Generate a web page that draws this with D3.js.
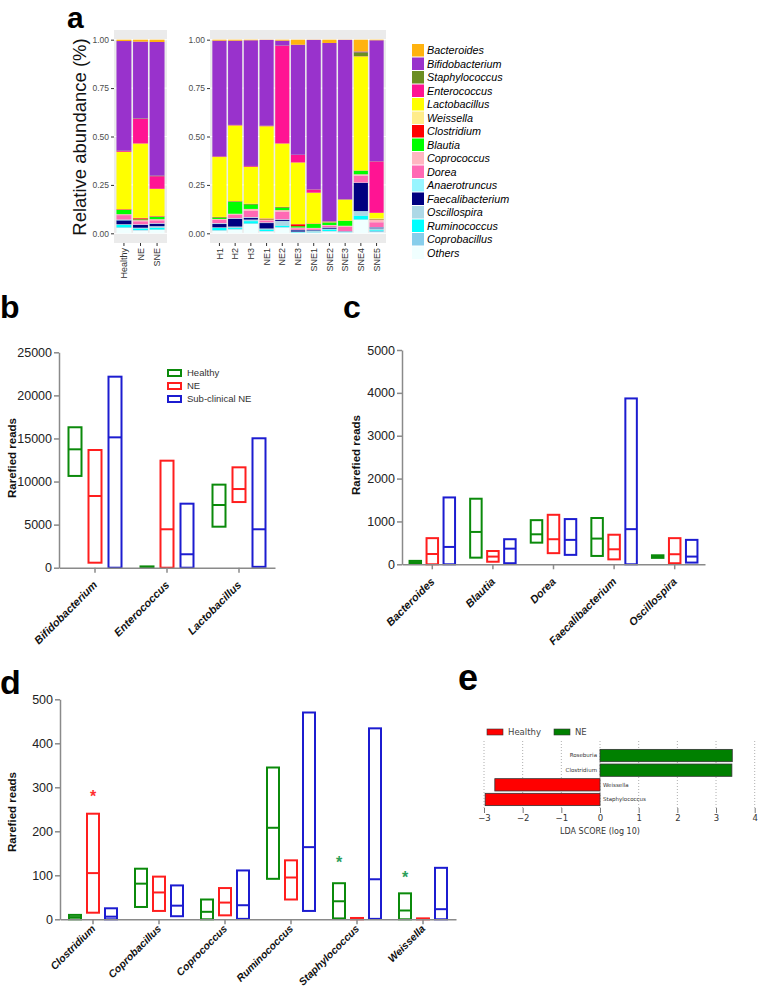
<!DOCTYPE html>
<html><head><meta charset="utf-8">
<script src="https://cdn.jsdelivr.net/npm/d3@7"></script>
<style>body{margin:0;background:#fff;} svg{display:block;}</style>
</head><body>
<script>
// ---------------- DATA ----------------
// Panel a: stacked relative abundance
const samplesPooled = ["Healthy","NE","SNE"];
const samplesIndiv = ["H1","H2","H3","NE1","NE2","NE3","SNE1","SNE2","SNE3","SNE4","SNE5"];
const sampleNames = samplesPooled.concat(samplesIndiv);
const genera = ["Bacteroides","Bifidobacterium","Staphylococcus","Enterococcus","Lactobacillus","Weissella","Clostridium","Blautia","Coprococcus","Dorea","Anaerotruncus","Faecalibacterium","Oscillospira","Ruminococcus","Coprobacillus","Others"];
const generaColors = ["#FFB30F","#9932CC","#6B8E23","#FF1493","#FFFF00","#FFEC8B","#FF0000","#00FF00","#FFB6C1","#FF69B4","#98F5FF","#000080","#ADD8E6","#00FFFF","#87CEEB","#F0FFFF"];
// values per genus, in order of sampleNames
const Bacteroides      = [0.007,0.010,0.012,0.005,0.005,0.003,0.001,0.005,0.026,0.001,0.017,0.001,0.061,0.003];
const Bifidobacterium  = [0.566,0.396,0.690,0.597,0.435,0.649,0.443,0.025,0.568,0.772,0.921,0.823,0.004,0.625];
const Staphylococcus   = [0.002,0.002,0.003,0.001,0.001,0.001,0.001,0.001,0.001,0.001,0.001,0.001,0.020,0.001];
const Enterococcus     = [0.004,0.128,0.065,0.003,0.002,0.004,0.002,0.505,0.039,0.016,0.001,0.001,0.001,0.265];
const Lactobacillus    = [0.296,0.384,0.140,0.309,0.390,0.190,0.475,0.327,0.318,0.159,0.002,0.108,0.589,0.029];
const Weissella        = [0.001,0.002,0.002,0.001,0.001,0.001,0.002,0.001,0.001,0.001,0.001,0.001,0.001,0.004];
const Clostridium      = [0.003,0.006,0.003,0.002,0.002,0.002,0.004,0.002,0.010,0.002,0.001,0.001,0.001,0.002];
const Blautia          = [0.022,0.004,0.012,0.008,0.063,0.024,0.002,0.014,0.007,0.020,0.013,0.025,0.018,0.002];
const Coprococcus      = [0.005,0.006,0.006,0.005,0.005,0.010,0.004,0.008,0.004,0.003,0.004,0.006,0.008,0.012];
const Dorea            = [0.023,0.016,0.015,0.017,0.018,0.033,0.010,0.040,0.008,0.007,0.008,0.022,0.035,0.025];
const Anaerotruncus    = [0.004,0.003,0.003,0.004,0.003,0.004,0.003,0.003,0.002,0.002,0.002,0.001,0.002,0.002];
const Faecalibacterium = [0.020,0.014,0.012,0.017,0.040,0.008,0.028,0.005,0.007,0.003,0.005,0.001,0.145,0.004];
const Oscillospira     = [0.004,0.004,0.008,0.003,0.008,0.008,0.005,0.024,0.002,0.005,0.004,0.001,0.024,0.010];
const Ruminococcus     = [0.012,0.008,0.009,0.012,0.005,0.012,0.008,0.008,0.002,0.002,0.008,0.002,0.019,0.004];
const Coprobacillus    = [0.003,0.002,0.002,0.002,0.002,0.002,0.002,0.002,0.001,0.002,0.002,0.001,0.002,0.006];
const Others           = [0.028,0.015,0.018,0.014,0.020,0.049,0.010,0.030,0.004,0.004,0.010,0.005,0.070,0.006];
const generaValues = [Bacteroides,Bifidobacterium,Staphylococcus,Enterococcus,Lactobacillus,Weissella,Clostridium,Blautia,Coprococcus,Dorea,Anaerotruncus,Faecalibacterium,Oscillospira,Ruminococcus,Coprobacillus,Others];
const yTicksA = [0,0.25,0.5,0.75,1];

// Panels b-d: floating bars [min, median, max]
const groupNames = ["Healthy","NE","Sub-clinical NE"];
const groupColors = ["#0B8A0B","#FF1E1E","#1C1CD0"];

const bCats = ["Bifidobacterium","Enterococcus","Lactobacillus"];
const bHealthy = [[10650,13740,16300],[0,80,150],[4760,7280,9640]];
const bNE      = [[580,8320,13660],[0,4460,12420],[7620,9130,11650]];
const bSNE     = [[0,15130,22170],[0,1560,7430],[100,4460,15020]];
const bTicks = [0,5000,10000,15000,20000,25000];

const cCats = ["Bacteroides","Blautia","Dorea","Faecalibacterium","Oscillospira"];
const cHealthy = [[20,50,80],[155,755,1530],[505,700,1030],[195,600,1080],[150,180,210]];
const cNE      = [[0,240,610],[60,180,310],[260,585,1155],[115,350,690],[25,235,610]];
const cSNE     = [[0,405,1560],[25,365,585],[220,570,1055],[0,820,3870],[40,180,570]];
const cTicks = [0,1000,2000,3000,4000,5000];

const dCats = ["Clostridium","Coprobacillus","Coprococcus","Ruminococcus","Staphylococcus","Weissella"];
const dHealthy = [[0,5,10],[28,81,115],[0,17,45],[92,208,345],[2,41,82],[0,20,59]];
const dNE      = [[15,105,240],[19,61,97],[9,38,71],[45,95,134],[0,1,3],[0,1,2]];
const dSNE     = [[0,6,25],[7,31,77],[1,32,111],[19,164,470],[1,91,434],[0,23,117]];
const dTicks = [0,100,200,300,400,500];
// significance stars: [category, group index, value]
const dStars = [["Clostridium",1,287],["Staphylococcus",0,137],["Weissella",0,103]];

// Panel e: LDA
const eFeatures = ["Roseburia","Clostridium","Weissella","Staphylococcus"];
const eScores = [3.42,3.41,-2.72,-2.97];
const eClass = ["NE","NE","Healthy","Healthy"];
const eClassNames = ["Healthy","NE"];
const eClassColors = ["#FF0000","#008000"];
const eTicks = [-3,-2,-1,0,1,2,3,4];

// ---------------- DRAW ----------------
const FONT = "'Liberation Sans', Arial, Helvetica, sans-serif";
const svg = d3.select("body").append("svg").attr("width",758).attr("height",992)
  .style("font-family",FONT);

function panelLetter(t,x,y,size){
  svg.append("text").attr("x",x).attr("y",y).text(t).attr("font-weight","bold")
    .attr("font-size",size).attr("fill","#000");
}

// ----- Panel a -----
panelLetter("a",67,28,30);
const yA = d3.scaleLinear().domain([-0.05,1.05]).range([243,30]);
const colorOf = {}; genera.forEach((g,i)=>colorOf[g]=generaColors[i]);
const rows = sampleNames.map((s,i)=>{const o={sample:s}; genera.forEach((g,k)=>o[g]=generaValues[k][i]); return o;});
const stacker = d3.stack().keys(genera.slice().reverse());

function drawStack(samples,x0,x1){
  const g = svg.append("g");
  g.append("rect").attr("x",x0).attr("y",30).attr("width",x1-x0).attr("height",213).attr("fill","#EBEBEB");
  yTicksA.forEach(t=>g.append("line").attr("x1",x0).attr("x2",x1).attr("y1",yA(t)).attr("y2",yA(t)).attr("stroke","#fff").attr("stroke-width",1));
  const xb = d3.scaleBand().domain(samples).range([x0,x1]).paddingInner(0.1).paddingOuter(0.15);
  const series = stacker(rows.filter(r=>samples.includes(r.sample)));
  g.selectAll("g.s").data(series).join("g").attr("fill",d=>colorOf[d.key])
    .selectAll("rect").data(d=>d).join("rect")
    .attr("x",d=>xb(d.data.sample)).attr("width",xb.bandwidth())
    .attr("y",d=>yA(d[1])).attr("height",d=>Math.max(0,yA(d[0])-yA(d[1])));
  const ay = g.append("g").attr("transform",`translate(${x0},0)`)
    .call(d3.axisLeft(yA).tickValues(yTicksA).tickFormat(d3.format(".2f")).tickSize(3).tickPadding(2).tickSizeOuter(0));
  ay.select(".domain").remove();
  ay.attr("font-family",FONT);
  ay.selectAll("line").attr("stroke","#333");
  ay.selectAll("text").attr("font-size",8.5).attr("fill","#4D4D4D");
  const ax = g.append("g").attr("transform","translate(0,243)")
    .call(d3.axisBottom(xb).tickSize(3).tickSizeOuter(0));
  ax.select(".domain").remove();
  ax.attr("font-family",FONT);
  ax.selectAll("line").attr("stroke","#333");
  ax.selectAll("text").attr("transform","rotate(-90)").attr("text-anchor","end")
    .attr("x",-5).attr("y",0).attr("dy","0.35em").attr("font-size",9).attr("fill","#333");
}
drawStack(samplesPooled,114,167);
drawStack(samplesIndiv,210,386);
svg.append("text").attr("transform","translate(86,137) rotate(-90)").attr("text-anchor","middle")
  .attr("font-size",18.5).attr("fill","#111").text("Relative abundance (%)");
// legend
const lg = svg.append("g");
genera.forEach((gn,i)=>{
  lg.append("rect").attr("x",412).attr("y",44+13.5*i).attr("width",12).attr("height",12.5).attr("fill",generaColors[i]);
  lg.append("text").attr("x",427).attr("y",50.5+13.5*i).attr("dy","0.35em").attr("font-size",10.8)
    .attr("font-style","italic").attr("fill","#000").text(gn);
});

// ----- Box panels -----
function boxPanel(cfg){
  const y = d3.scaleLinear().domain([0,cfg.ymax]).range([cfg.yBottom,cfg.yTop]);
  const x = d3.scaleBand().domain(cfg.cats).range([cfg.x0,cfg.x1]);
  const step = cfg.inner/3, pin = 1-cfg.boxW/step;
  const xi = d3.scaleBand().domain(groupNames).range([-cfg.inner/2,cfg.inner/2]).paddingInner(pin).paddingOuter(pin/2);
  const g = svg.append("g");
  cfg.data.forEach((arr,gi)=>{
    arr.forEach((v,ci)=>{
      const left = x(cfg.cats[ci]) + x.bandwidth()/2 + xi(groupNames[gi]);
      const [mn,md,mx] = v;
      g.append("rect").attr("x",left).attr("width",xi.bandwidth())
        .attr("y",y(mx)).attr("height",Math.max(0.5,y(mn)-y(mx)))
        .attr("fill","none").attr("stroke",groupColors[gi]).attr("stroke-width",2);
      g.append("line").attr("x1",left).attr("x2",left+xi.bandwidth()).attr("y1",y(md)).attr("y2",y(md))
        .attr("stroke",groupColors[gi]).attr("stroke-width",2);
    });
  });
  (cfg.stars||[]).forEach(([cat,gi,val])=>{
    const cx = x(cat)+x.bandwidth()/2+xi(groupNames[gi])+xi.bandwidth()/2;
    g.append("text").attr("x",cx).attr("y",y(val)+9).attr("text-anchor","middle").attr("font-size",16)
      .attr("font-weight","bold").attr("fill",gi===1?"#FF3030":"#2BA05A").text("*");
  });
  const ay = g.append("g").attr("transform",`translate(${cfg.x0},0)`)
    .call(d3.axisLeft(y).tickValues(cfg.ticks).tickFormat(d3.format("d")).tickSize(5).tickPadding(2).tickSizeOuter(0));
  ay.attr("font-family",FONT);
  ay.select(".domain").attr("stroke","#8A8A8A").attr("stroke-width",1.5);
  ay.selectAll(".tick line").attr("stroke","#8A8A8A").attr("stroke-width",1.5);
  ay.selectAll("text").attr("font-size",12.5).attr("fill","#222");
  const ax = g.append("g").attr("transform",`translate(0,${cfg.yBottom})`)
    .call(d3.axisBottom(x).tickSize(5).tickSizeOuter(0));
  ax.attr("font-family",FONT);
  ax.select(".domain").attr("stroke","#8A8A8A").attr("stroke-width",1.5);
  ax.selectAll(".tick line").attr("stroke","#8A8A8A").attr("stroke-width",1.5);
  ax.selectAll("text").attr("transform",`translate(3,${cfg.labOff}) rotate(-45)`).attr("text-anchor","end")
    .attr("x",0).attr("y",0).attr("dy","0").attr("font-size",cfg.labSize).attr("font-weight","bold")
    .attr("font-style","italic").attr("fill","#111");
  svg.append("text").attr("transform",`translate(${cfg.ylabX},${cfg.ylabY}) rotate(-90)`).attr("text-anchor","middle")
    .attr("font-size",11.5).attr("font-weight","bold").attr("fill","#111").text("Rarefied reads");
  return {x,y,xi};
}

panelLetter("b",0,318,32);
boxPanel({cats:bCats,data:[bHealthy,bNE,bSNE],x0:59,x1:275,yTop:352.3,yBottom:567.7,ymax:25000,ticks:bTicks,boxW:13,inner:60,ylabX:16,ylabY:458,labOff:18,labSize:11});
// legend b
groupNames.forEach((n,i)=>{
  const yy = 373+13*i;
  svg.append("rect").attr("x",168).attr("y",yy-3).attr("width",13).attr("height",6)
    .attr("fill","none").attr("stroke",groupColors[i]).attr("stroke-width",2);
  svg.append("text").attr("x",187).attr("y",yy).attr("dy","0.35em").attr("font-size",9.5).attr("fill","#333").text(n);
});

panelLetter("c",343,318,32);
boxPanel({cats:cCats,data:[cHealthy,cNE,cSNE],x0:402,x1:705,yTop:350,yBottom:564.3,ymax:5000,ticks:cTicks,boxW:11.5,inner:51,ylabX:360,ylabY:455,labOff:18,labSize:11});

panelLetter("d",0,694,34);
boxPanel({cats:dCats,data:[dHealthy,dNE,dSNE],x0:60,x1:456,yTop:699.3,yBottom:919.3,ymax:500,ticks:dTicks,boxW:12,inner:54,ylabX:16,ylabY:812,stars:dStars,labOff:10,labSize:10.5});

// ----- Panel e -----
panelLetter("e",458,690,36);
const xE = d3.scaleLinear().domain([-3,4]).range([484,754.7]);
const yE = d3.scaleBand().domain(eFeatures).range([748.5,806.5]).paddingInner(0.16).paddingOuter(0.06);
const ge = svg.append("g");
eTicks.forEach(t=>{
  ge.append("line").attr("x1",xE(t)).attr("x2",xE(t)).attr("y1",741).attr("y2",808)
    .attr("stroke","#9A9A9A").attr("stroke-width",0.8).attr("stroke-dasharray","1,2");
});
const axE = ge.append("g").attr("transform","translate(0,808)")
  .call(d3.axisBottom(xE).tickValues(eTicks).tickFormat(d=>d<0?"\u2212"+Math.abs(d):d).tickSize(5).tickPadding(2).tickSizeOuter(0));
axE.select(".domain").remove();
axE.attr("font-family","'DejaVu Sans', sans-serif");
axE.selectAll("line").attr("stroke","#555").attr("stroke-width",0.8);
axE.selectAll("text").attr("font-size",8.5).attr("fill","#333");
ge.selectAll("rect.bar").data(eFeatures).join("rect").attr("class","bar")
  .attr("x",(d,i)=>Math.min(xE(0),xE(eScores[i]))).attr("width",(d,i)=>Math.abs(xE(eScores[i])-xE(0)))
  .attr("y",d=>yE(d)).attr("height",yE.bandwidth())
  .attr("fill",(d,i)=>eClassColors[eClassNames.indexOf(eClass[i])]).attr("stroke","#333").attr("stroke-width",0.8);
ge.selectAll("text.lab").data(eFeatures).join("text").attr("class","lab")
  .attr("x",(d,i)=>eScores[i]>0?xE(0)-3:xE(0)+3).attr("y",d=>yE(d)+yE.bandwidth()/2).attr("dy","0.35em")
  .attr("text-anchor",(d,i)=>eScores[i]>0?"end":"start").attr("font-size",5.5).attr("fill","#333")
  .attr("font-family","'DejaVu Sans', sans-serif").text(d=>d);
ge.append("text").attr("x",xE(0)).attr("y",834).attr("text-anchor","middle").attr("font-size",8)
  .attr("font-family","'DejaVu Sans', sans-serif").attr("fill","#333").text("LDA SCORE (log 10)");
eClassNames.forEach((n,i)=>{
  const lx = [487,554][i];
  ge.append("rect").attr("x",lx).attr("y",729).attr("width",16).attr("height",6)
    .attr("fill",eClassColors[i]).attr("stroke","#333").attr("stroke-width",0.6);
  ge.append("text").attr("x",lx+21).attr("y",732).attr("dy","0.35em").attr("font-size",8.5)
    .attr("font-family","'DejaVu Sans', sans-serif").attr("fill","#444").text(n);
});
</script>
</body></html>
